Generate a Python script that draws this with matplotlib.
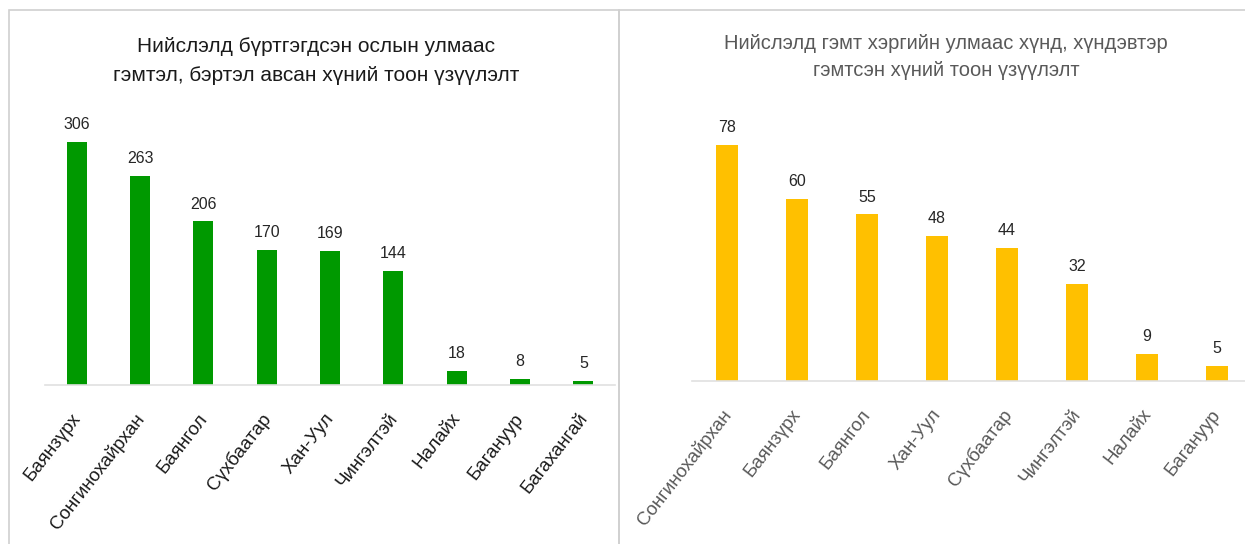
import matplotlib
matplotlib.use("Agg")
import matplotlib.pyplot as plt
import matplotlib.transforms as mtransforms
from matplotlib.patches import Rectangle

plt.rcParams['font.family'] = ['Liberation Sans', 'DejaVu Sans']

left_title = "Нийслэлд бүртгэгдсэн ослын улмаас\nгэмтэл, бэртэл авсан хүний тоон үзүүлэлт"
left_cats = ["Баянзүрх", "Сонгинохайрхан", "Баянгол", "Сүхбаатар", "Хан-Уул",
             "Чингэлтэй", "Налайх", "Багануур", "Багахангай"]
left_vals = [306, 263, 206, 170, 169, 144, 18, 8, 5]

right_title = "Нийслэлд гэмт хэргийн улмаас хүнд, хүндэвтэр\nгэмтсэн хүний тоон үзүүлэлт"
right_cats = ["Сонгинохайрхан", "Баянзүрх", "Баянгол", "Хан-Уул", "Сүхбаатар",
              "Чингэлтэй", "Налайх", "Багануур"]
right_vals = [78, 60, 55, 48, 44, 32, 9, 5]

W, H = 1245, 544
fig = plt.figure(figsize=(W / 100, H / 100), dpi=100)

def px_axes(x0, y_top, x1, y_base):
    return fig.add_axes([x0 / W, (H - y_base) / H, (x1 - x0) / W, (y_base - y_top) / H])

# panel borders
for (x0, x1) in [(9, 619), (619, 1250)]:
    fig.patches.append(Rectangle((x0 / W, -0.01), (x1 - x0) / W, (H - 10) / H + 0.01,
                                 transform=fig.transFigure, fill=False,
                                 edgecolor='#d0d0d0', linewidth=1.2))

def draw(ax, cats, vals, color, ymax, width, label_color, fs_label):
    x = list(range(len(cats)))
    ax.bar(x, vals, width=width, color=color)
    ax.set_xlim(-0.5, len(cats) - 0.5)
    ax.set_ylim(0, ymax)
    for s in ['top', 'right', 'left']:
        ax.spines[s].set_visible(False)
    ax.spines['bottom'].set_color('#e0e0e0')
    ax.spines['bottom'].set_linewidth(1.2)
    ax.set_yticks([])
    ax.set_xticks(x)
    ax.set_xticklabels(cats, rotation=52, ha='right', rotation_mode='anchor',
                       fontsize=fs_label, color=label_color)
    ax.tick_params(axis='x', length=0, pad=18)
    off = mtransforms.ScaledTranslation(-6 / 100, 0, fig.dpi_scale_trans)
    for lab in ax.get_xticklabels():
        lab.set_transform(lab.get_transform() + off)
    ax.patch.set_alpha(0)
    for xi, v in zip(x, vals):
        ax.annotate(str(v), (xi, v), xytext=(0, 7), textcoords='offset points',
                    ha='center', va='bottom', fontsize=11.5, color='#262626')

axL = px_axes(45, 100, 615, 385)
draw(axL, left_cats, left_vals, '#009900', 285 / 0.794, 0.32, '#1a1a1a', 13.5)
fig.text(316 / W, 1 - 61 / H, left_title, ha='center', va='center', fontsize=15,
         color='#1a1a1a', linespacing=1.62)

axR = px_axes(692, 100, 1252, 381)
draw(axR, right_cats, right_vals, '#FFC000', 281 / 3.03, 0.32, '#595959', 13.5)
fig.text(946 / W, 1 - 57 / H, right_title, ha='center', va='center', fontsize=14.5,
         color='#595959', linespacing=1.58)

fig.savefig("out.png", dpi=100, facecolor='white')
